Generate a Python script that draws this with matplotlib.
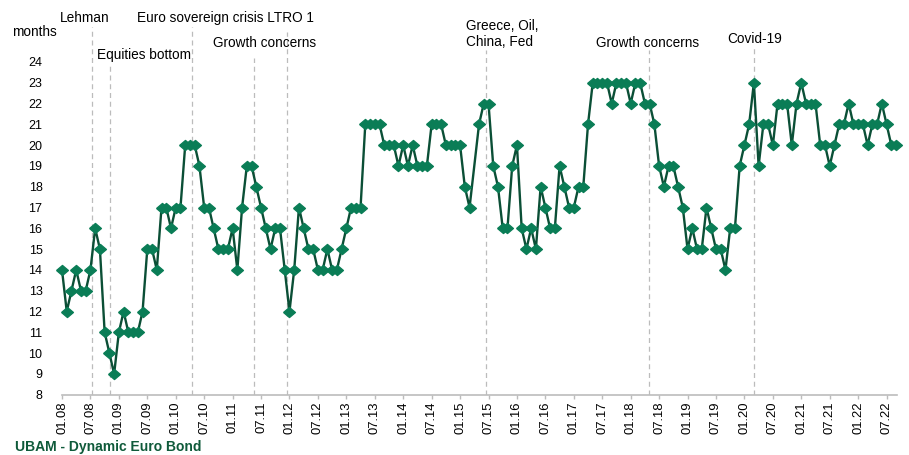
"""
UBAM - Dynamic Euro Bond: duration over time (months)
"""

import numpy as np
import matplotlib.pyplot as plt

plt.rcParams['font.family'] = ['Liberation Sans', 'DejaVu Sans']

# monthly duration (months), first point = Jan 2008; nan = no reading
duration = np.array([
    14, 12, 13, 14, 13, 13, 14, 16, 15, 11, 10, 9,      # 2008
    11, 12, 11, 11, 11, 12, 15, 15, 14, 17, 17, 16,     # 2009
    17, 17, 20, 20, 20, 19, 17, 17, 16, 15, 15, 15,     # 2010
    16, 14, 17, 19, 19, 18, 17, 16, 15, 16, 16, 14,     # 2011
    12, 14, 17, 16, 15, 15, 14, 14, 15, 14, 14, 15,     # 2012
    16, 17, 17, 17, 21, 21, 21, 21, 20, 20, 20, 19,     # 2013
    20, 19, 20, 19, 19, 19, 21, 21, 21, 20, 20, 20,     # 2014
    20, 18, 17, np.nan, 21, 22, 22, 19, 18, 16, 16, 19,  # 2015
    20, 16, 15, 16, 15, 18, 17, 16, 16, 19, 18, 17,     # 2016
    17, 18, 18, 21, 23, 23, 23, 23, 22, 23, 23, 23,     # 2017
    22, 23, 23, 22, 22, 21, 19, 18, 19, 19, 18, 17,     # 2018
    15, 16, 15, 15, 17, 16, 15, 15, 14, 16, 16, 19,     # 2019
    20, 21, 23, 19, 21, 21, 20, 22, 22, 22, 20, 22,     # 2020
    23, 22, 22, 22, 20, 20, 19, 20, 21, 21, 22, 21,     # 2021
    21, 21, 20, 21, 21, 22, 21, 20, 20,                 # 2022
])
months = np.arange(len(duration))

# events: label and month index of the dashed marker line
event_names = ["Lehman", "Equities bottom", "Euro sovereign crisis LTRO 1", "Growth concerns",
               "", "Greece, Oil,\nChina, Fed", "Growth concerns", "Covid-19"]
event_months = [6.3, 10.1, 27.4, 40.5, 47.5, 89.4, 123.9, 146.0]
event_tops = [25.7, 23.95, 25.7, 24.2, 25.45, 24.55, 24.55, 24.65]
label_x = [-0.4, 7.4, 15.8, 31.9, None, 85.2, 112.7, 140.4]
label_y = [26.12, 24.33, 26.12, 24.9, None, 25.34, 24.9, 25.1]

tick_months = np.arange(0, 175, 6)
tick_labels = ["%s.%02d" % ("01" if m % 12 == 0 else "07", 8 + m // 12) for m in tick_months]

line_col = '#0b4f36'
mark_col = '#0a7d56'
grey = '#bcbcbc'

fig = plt.figure(figsize=(9.09, 4.55), dpi=100)
ax = fig.add_axes([62 / 909, 60.3 / 455, 835 / 909, 394.7 / 455])

ok = ~np.isnan(duration)
diamond = [(-1, 0), (0, 0.85), (1, 0), (0, -0.85), (-1, 0)]
ax.plot(months[ok], duration[ok], color=line_col, lw=1.7, marker=diamond,
        ms=8.5, mfc=mark_col, mec=mark_col, zorder=3, clip_on=False)

for m, top in zip(event_months, event_tops):
    ax.vlines(m, 8, top, colors=grey, linestyles=(0, (4, 3)), lw=0.9, zorder=1)

for name, x, y in zip(event_names, label_x, label_y):
    if name:
        ax.text(x, y, name, fontsize=9.8, va='center', ha='left', clip_on=False)

ax.set_xlim(0, 176.2)
ax.set_ylim(8, 8 + 394.7 / 20.8)
ax.set_yticks(range(8, 25))
ax.set_xticks(tick_months)
ax.set_xticklabels(tick_labels, rotation=90)

for s in ['top', 'right', 'left']:
    ax.spines[s].set_visible(False)
ax.spines['bottom'].set_color(grey)
ax.spines['bottom'].set_linewidth(1.2)
ax.tick_params(axis='y', length=0, pad=14, labelsize=9)
ax.tick_params(axis='x', length=3, width=1, color=grey, pad=2, labelsize=9.4)
for lab in ax.get_yticklabels():
    lab.set_horizontalalignment('right')

fig.text(12 / 909, 1 - 32 / 455, "months", fontsize=9.8, va='center', ha='left')
fig.text(15 / 909, 4 / 455, "UBAM - Dynamic Euro Bond", fontsize=10, fontweight='bold',
         color='#0f5a3a', va='baseline', ha='left')

fig.savefig('out.png', dpi=100)
